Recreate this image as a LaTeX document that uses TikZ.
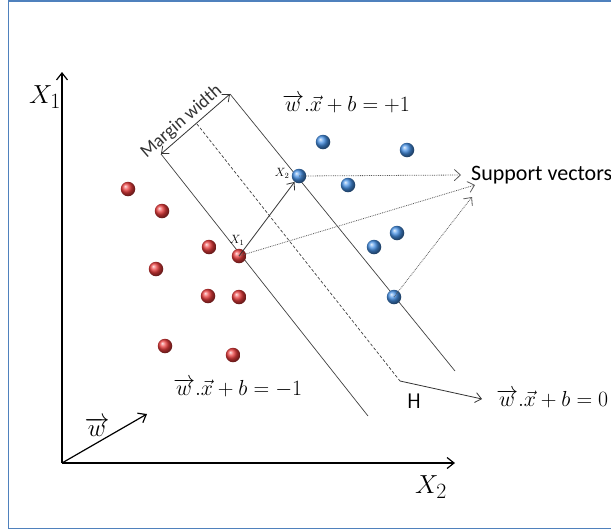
\documentclass[tikz,border=0pt]{standalone}
\usepackage{amsmath}
\usepackage{fontspec}
\newfontfamily\calibrifont{Carlito}
\usetikzlibrary{arrows.meta}
\definecolor{framec}{RGB}{79,129,189}
\definecolor{redball}{RGB}{235,60,60}
\definecolor{blueball}{RGB}{70,145,230}
\tikzset{
  redpt/.style={circle,minimum size=14.5pt,inner sep=0pt,shading=ball,ball color=redball},
  bluept/.style={circle,minimum size=14.5pt,inner sep=0pt,shading=ball,ball color=blueball},
  axisline/.style={line width=1.4pt,-{Straight Barb[length=7pt,width=11pt,line width=1.2pt]}},
  marginline/.style={draw=black!75,line width=0.7pt},
  dottedarrow/.style={black!65,densely dotted,line width=0.8pt,-{Straight Barb[length=6pt,width=11pt,line width=0.8pt,line cap=round]}},
  solidarrow/.style={black!80,line width=0.8pt,-{Straight Barb[length=6pt,width=10pt,line width=0.8pt]}},
  eq/.style={font=\fontsize{20.74}{24}\selectfont,inner sep=1pt,scale=1.05},
  sftext/.style={font=\calibrifont\fontsize{22}{24}\selectfont,inner sep=1pt},
  axlab/.style={font=\fontsize{24.88}{28}\selectfont,scale=1.05},
}
\begin{document}
\begin{tikzpicture}[x=1pt,y=-1pt]
\useasboundingbox (0,0) rectangle (611,531);
\draw[framec,line width=1.6pt] (8.5,1) rectangle (640,528.5);

% axes
\coordinate (O) at (62,463);
\coordinate (Ytop) at (62,72);
\coordinate (Xend) at (455,463);
\draw[axisline] (O) -- (Ytop);
\draw[axisline] (O) -- (Xend);
\node[axlab] (x1lab) at (45,97) {$X_1$};
\node[axlab] (x2lab) at (431,487) {$X_2$};

% w vector
\coordinate (wend) at (147,414);
\draw[axisline,line width=1.2pt] (O) -- (wend);
\node[font=\fontsize{24.88}{26}\selectfont] (wlab) at (97,427) {$\overrightarrow{w}$};

% margin lines
\coordinate (L1) at (161,154); \coordinate (L2) at (368,416);
\coordinate (D1) at (197,124); \coordinate (D2) at (400,381);
\coordinate (R1) at (230,94);  \coordinate (R2) at (455,371);
\draw[marginline] (L1) -- (L2);
\draw[marginline] (R1) -- (R2);
\draw[marginline,dashed,dash pattern=on 3pt off 2pt] (D1) -- (D2);
\draw[solidarrow,{Straight Barb[length=6pt,width=10pt,line width=0.8pt]}-{Straight Barb[length=6pt,width=10pt,line width=0.8pt]}] (L1) -- (R1)
  node[pos=0.4,sloped,above,inner sep=2.5pt,font=\calibrifont\fontsize{18.5}{20}\selectfont] (mw) {Margin width};

% red points
\node[redpt] (r1) at (128,189) {};
\node[redpt] (r2) at (162,211) {};
\node[redpt] (r3) at (209,247) {};
\node[redpt] (r4) at (239,256) {};
\node[redpt] (r5) at (156,269) {};
\node[redpt] (r6) at (208,296) {};
\node[redpt] (r7) at (239,297) {};
\node[redpt] (r8) at (165,346) {};
\node[redpt] (r9) at (233,355) {};

% blue points
\node[bluept] (b1) at (323,142) {};
\node[bluept] (b2) at (407,150) {};
\node[bluept] (b3) at (299,176) {};
\node[bluept] (b4) at (348,185) {};
\node[bluept] (b5) at (397,233) {};
\node[bluept] (b6) at (374,247) {};
\node[bluept] (b7) at (394,297) {};

\node[font=\fontsize{12}{13}\selectfont,inner sep=0pt] (x1s) at (237,240) {$X_1$};
\node[font=\fontsize{12}{13}\selectfont,inner sep=0pt] (x2s) at (282,173) {$X_2$};

% X1 -> X2
\draw[solidarrow] (r4.center) -- (b3);

% support vectors
\node[sftext,anchor=west] (sv) at (470,175) {Support vectors};
\coordinate (sv1) at (461,175);
\coordinate (sv2) at (475,185);
\coordinate (sv3) at (472,197);
\draw[dottedarrow] (b3.center) -- (sv1);
\draw[dottedarrow] (r4.center) -- (sv2);
\draw[dottedarrow] (b7.center) -- (sv3);

% H
\node[font=\fontsize{21}{23}\selectfont\sffamily] (H) at (414,401) {H};
\coordinate (harr) at (482,399);
\draw[solidarrow] (D2) -- (harr);

% equations
\node[eq,anchor=west] (eqp) at (281,104) {$\overrightarrow{w}.\vec{x}+b=+1$};
\node[eq,anchor=west] (eqm) at (172,388) {$\overrightarrow{w}.\vec{x}+b=-1$};
\node[eq,anchor=west] (eq0) at (495,399) {$\overrightarrow{w}.\vec{x}+b=0$};
\end{tikzpicture}
\end{document}
